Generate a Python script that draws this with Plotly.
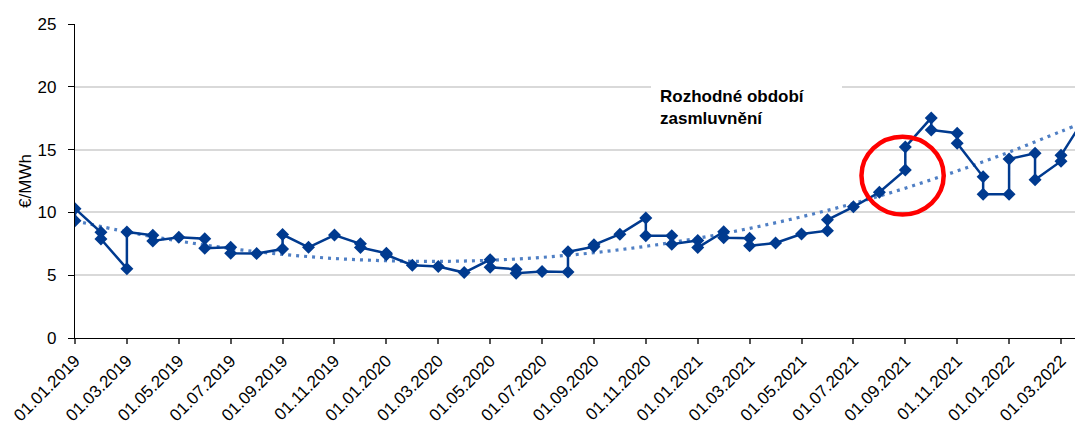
import plotly.graph_objects as go

# ---- data ----
# month of each observation (YYYY-MM); several observations may share a month
obs_month = [
    "2019-01", "2019-01", "2019-02", "2019-02", "2019-03", "2019-03",
    "2019-04", "2019-04", "2019-05", "2019-06", "2019-06", "2019-07", "2019-07",
    "2019-08", "2019-09", "2019-09", "2019-10", "2019-11", "2019-12", "2019-12",
    "2020-01", "2020-01", "2020-02", "2020-03", "2020-04", "2020-05", "2020-05",
    "2020-06", "2020-06", "2020-07", "2020-08", "2020-08", "2020-09", "2020-09",
    "2020-10", "2020-11", "2020-11", "2020-12", "2020-12", "2021-01", "2021-01",
    "2021-02", "2021-02", "2021-03", "2021-03", "2021-04", "2021-05",
    "2021-06", "2021-06", "2021-07", "2021-08", "2021-09", "2021-09",
    "2021-10", "2021-10", "2021-11", "2021-11", "2021-12", "2021-12",
    "2022-01", "2022-01", "2022-02", "2022-02", "2022-03", "2022-03", "2022-04",
]
price = [
    9.33, 10.30, 8.41, 7.88, 5.52, 8.44,
    8.18, 7.73, 8.02, 7.90, 7.14, 7.22, 6.75,
    6.72, 7.08, 8.24, 7.22, 8.20, 7.50, 7.20,
    6.75, 6.62, 5.80, 5.70, 5.21, 6.24, 5.63,
    5.47, 5.16, 5.30, 5.25, 6.87, 7.27, 7.42,
    8.27, 9.56, 8.14, 8.14, 7.47, 7.77, 7.20,
    8.46, 7.98, 7.94, 7.34, 7.56, 8.28,
    8.54, 9.41, 10.44, 11.60, 13.38, 15.20,
    17.52, 16.56, 16.31, 15.50, 12.83, 11.45,
    11.45, 14.25, 14.70, 12.60, 14.08, 14.55, 17.80,
]

# dotted trend line, read every two months
trend_month = [
    "2019-01", "2019-03", "2019-05", "2019-07", "2019-09", "2019-11",
    "2020-01", "2020-03", "2020-05", "2020-07", "2020-09", "2020-11",
    "2021-01", "2021-03", "2021-05", "2021-07", "2021-09", "2021-11",
    "2022-01", "2022-03", "2022-04",
]
trend_value = [
    9.33, 8.45, 7.72, 7.12, 6.66, 6.33,
    6.15, 6.10, 6.19, 6.42, 6.79, 7.30,
    7.94, 8.73, 9.65, 10.71, 11.93, 13.30,
    14.80, 16.45, 17.25,
]

tick_labels = [
    "01.01.2019", "01.03.2019", "01.05.2019", "01.07.2019", "01.09.2019",
    "01.11.2019", "01.01.2020", "01.03.2020", "01.05.2020", "01.07.2020",
    "01.09.2020", "01.11.2020", "01.01.2021", "01.03.2021", "01.05.2021",
    "01.07.2021", "01.09.2021", "01.11.2021", "01.01.2022", "01.03.2022",
]

annotation_text = "Rozhodné období<br>zasmluvnění"
y_title = "€/MWh"


def month_index(ym):
    y, m = ym.split("-")
    return (int(y) - 2019) * 12 + int(m) - 1


def label_index(lbl):
    d, m, y = lbl.split(".")
    return (int(y) - 2019) * 12 + int(m) - 1


obs_x = [month_index(s) for s in obs_month]
trend_x = [month_index(s) for s in trend_month]
tick_vals = [label_index(s) for s in tick_labels]

FONT = "Liberation Sans, Arial, sans-serif"
DARK = "#003a8f"
TREND = "#4f7fc4"

fig = go.Figure()
fig.add_trace(go.Scatter(
    x=trend_x, y=trend_value, mode="lines",
    line=dict(color=TREND, width=3.2, dash="3px,5px", shape="spline"),
    hoverinfo="skip", showlegend=False,
))
fig.add_trace(go.Scatter(
    x=obs_x, y=price, mode="lines+markers",
    line=dict(color=DARK, width=2.5),
    marker=dict(symbol="diamond", size=10, color=DARK),
    showlegend=False, cliponaxis=True,
))

# white box behind the annotation, interrupting the grid line
fig.add_shape(type="rect", xref="x", yref="y", x0=22.2, x1=29.56, y0=19.4, y1=20.7,
              fillcolor="white", line=dict(width=0), layer="between")
fig.add_annotation(
    x=22.45, y=18.32, xref="x", yref="y", xanchor="left", yanchor="middle",
    text="<b>" + annotation_text + "</b>", showarrow=False, align="left",
    font=dict(family=FONT, size=17, color="#000000"),
)
# red circle
fig.add_shape(type="circle", xref="x", yref="y", x0=30.31, x1=33.48, y0=9.83, y1=16.03,
              line=dict(color="#ff0000", width=4.5), layer="above")

fig.update_layout(
    width=1075, height=426,
    margin=dict(l=75, r=0, t=24, b=88, autoexpand=False),
    paper_bgcolor="white", plot_bgcolor="white",
    font=dict(family=FONT, color="#000000"),
)
fig.update_xaxes(
    range=[0, 38.54], tickvals=tick_vals, ticktext=tick_labels, tickangle=-45,
    tickfont=dict(family=FONT, size=17, color="#000000"),
    showline=True, linecolor="#000000", linewidth=1.2,
    ticks="outside", ticklen=5, tickcolor="#555555", tickwidth=1.5,
    showgrid=False, zeroline=False, automargin=False,
)
fig.update_yaxes(
    range=[0, 25], dtick=5, tick0=0,
    tickfont=dict(family=FONT, size=17, color="#000000"),
    showline=True, linecolor="#000000", linewidth=1.2,
    ticks="outside", ticklen=6, tickcolor="#000000", ticklabelstandoff=8,
    showgrid=True, gridcolor="#d9d9d9", gridwidth=2, zeroline=False,
    automargin=False,
    title=dict(text=y_title, font=dict(family=FONT, size=17, color="#000000"), standoff=1),
)

# remove the page's default body margin so the figure sits at the top-left corner
fig.write_html(
    "out.html",
    config={"displayModeBar": False},
    post_script="document.body.style.margin='0';document.body.style.overflow='hidden';",
)
